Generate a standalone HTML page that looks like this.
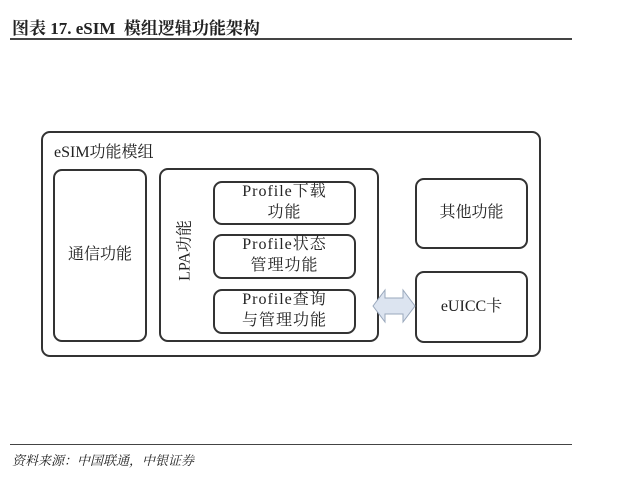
<!DOCTYPE html>
<html><head><meta charset="utf-8"><style>
body{margin:0;width:639px;height:480px;background:#fff;position:relative;overflow:hidden;font-family:"Liberation Serif","Noto Serif CJK SC",serif;color:#222}
.b{position:absolute;border:2px solid #333;border-radius:9px;box-sizing:border-box}
.t{position:absolute;font-size:16px;text-align:center;line-height:21px}
</style></head><body>
<div style="position:absolute;left:12px;top:14px;font-size:17px;font-weight:bold;">图表 17. eSIM&nbsp; 模组逻辑功能架构</div>
<div style="position:absolute;left:10px;top:38px;width:562px;height:2px;background:#444"></div>
<div class="b" style="left:41px;top:131px;width:500px;height:226px"></div>
<div class="t" style="left:54px;top:142px;text-align:left">eSIM功能模组</div>
<div class="b" style="left:53px;top:169px;width:94px;height:173px"></div>
<div class="t" style="left:53px;top:244px;width:94px">通信功能</div>
<div class="b" style="left:159px;top:168px;width:220px;height:174px"></div>
<div class="t" style="left:150px;top:240px;width:70px;transform:rotate(-90deg)">LPA功能</div>
<div class="b" style="left:213px;top:181px;width:143px;height:44px"></div>
<div class="t" style="left:213px;top:181px;width:143px;letter-spacing:1px">Profile下载<br>功能</div>
<div class="b" style="left:213px;top:234px;width:143px;height:45px"></div>
<div class="t" style="left:213px;top:234px;width:143px;letter-spacing:1px">Profile状态<br>管理功能</div>
<div class="b" style="left:213px;top:289px;width:143px;height:45px"></div>
<div class="t" style="left:213px;top:289px;width:143px;letter-spacing:1px">Profile查询<br>与管理功能</div>
<div class="b" style="left:415px;top:178px;width:113px;height:71px"></div>
<div class="t" style="left:415px;top:202px;width:113px">其他功能</div>
<div class="b" style="left:415px;top:271px;width:113px;height:72px"></div>
<div class="t" style="left:415px;top:296px;width:113px">eUICC卡</div>
<svg style="position:absolute;left:370px;top:286px" width="48" height="40"><polygon points="3,20 15,4 15,12 33,12 33,4 45,20 33,36 33,28 15,28 15,36" fill="#dce4f0" stroke="#9aa8bc" stroke-width="1"/></svg>
<div style="position:absolute;left:10px;top:444px;width:562px;height:1px;background:#444"></div>
<div style="position:absolute;left:12px;top:450px;font-size:13px;font-style:italic">资料来源：中国联通，中银证券</div>
</body></html>
